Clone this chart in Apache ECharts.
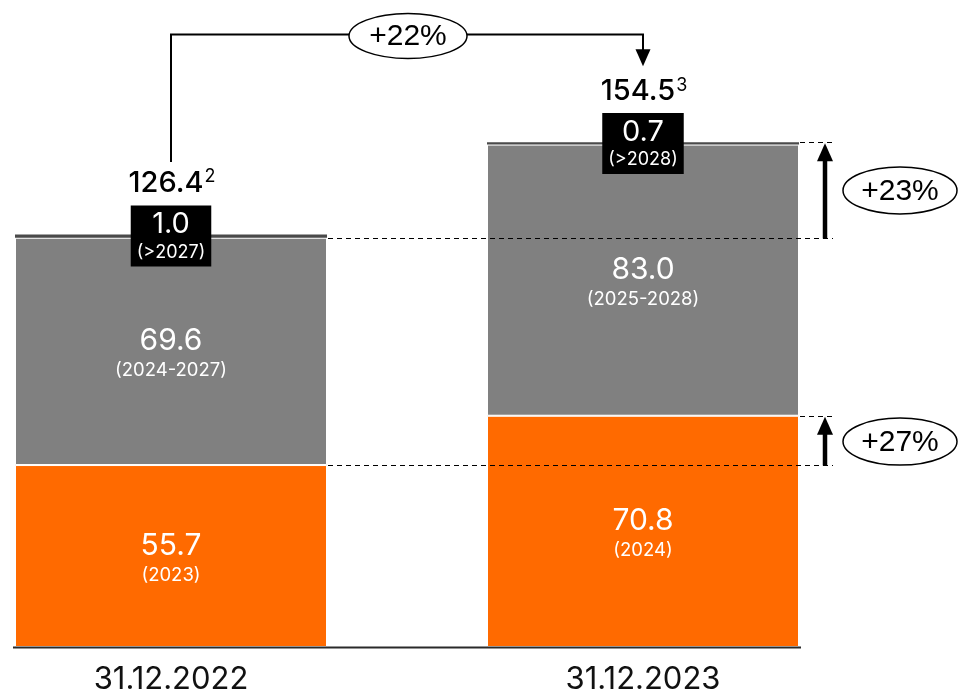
<!DOCTYPE html>
<html>
<head>
<meta charset="utf-8">
<script src="https://cdn.jsdelivr.net/npm/echarts@6/dist/echarts.min.js"></script>
<style>
html,body{margin:0;padding:0;background:#fff;}
#chart{width:959px;height:690px;}
</style>
</head>
<body>
<div id="chart"></div>
<script>
// ---- data ----
const categories = ['31.12.2022', '31.12.2023'];
const nearValues = [55.7, 70.8];
const nearPeriods = ['(2023)', '(2024)'];
const midValues = [69.6, 83.0];
const midPeriods = ['(2024-2027)', '(2025-2028)'];
const longValues = [1.0, 0.7];
const longPeriods = ['(>2027)', '(>2028)'];
const totals = [126.4, 154.5];
const totalNotes = ['2', '3'];
const changeTotal = '+22%';
const changeUpper = '+23%';
const changeNear = '+27%';

const FONT = 'Inter, "Noto Sans", sans-serif';
const ARIAL = '"Liberation Sans", Arial, sans-serif';
const ORANGE = '#FF6A00';
const GREY = '#808080';
const DARK = '#4a4a4a';
const BAR_W = 312;

const chart = echarts.init(document.getElementById('chart'), null, {renderer: 'canvas'});

function segLabel(periods, values) {
  return {
    show: true,
    position: 'inside',
    offset: [0, 3],
    fontFamily: FONT,
    formatter: p => '{v|' + values[p.dataIndex].toFixed(1) + '}\n{s|' + periods[p.dataIndex] + '}',
    rich: {
      v: {color: '#fff', fontSize: 30, fontFamily: FONT, lineHeight: 33},
      s: {color: '#fff', fontSize: 18.5, fontFamily: FONT, lineHeight: 27}
    }
  };
}

chart.setOption({
  animation: false,
  backgroundColor: '#fff',
  grid: {left: 171, right: 316, top: 59, bottom: 43, containLabel: false, outerBoundsMode: 'none'},
  xAxis: {
    type: 'category',
    data: categories,
    boundaryGap: false,
    axisLine: {show: false},
    axisTick: {show: false},
    axisLabel: {fontSize: 31, color: '#111', fontFamily: FONT, margin: 17}
  },
  yAxis: {type: 'value', min: 0, max: 180, show: false},
  series: [
    {
      type: 'bar', stack: 'a', barWidth: BAR_W, data: nearValues, clip: false,
      itemStyle: {color: ORANGE, borderColor: '#fff', borderWidth: 1},
      label: segLabel(nearPeriods, nearValues)
    },
    {
      type: 'bar', stack: 'a', barWidth: BAR_W, data: midValues, clip: false,
      itemStyle: {color: GREY, borderColor: '#fff', borderWidth: 1},
      label: segLabel(midPeriods, midValues)
    },
    {
      type: 'bar', stack: 'a', barWidth: BAR_W, data: longValues, clip: false,
      itemStyle: {color: DARK},
      z: 5,
      label: {
        show: true,
        position: 'inside',
        backgroundColor: '#000',
        padding: [3, 6, 2, 6],
        formatter: p => '{v|' + longValues[p.dataIndex].toFixed(1) + '}\n{s|' + longPeriods[p.dataIndex] + '}',
        rich: {
          v: {color: '#fff', fontSize: 29, fontFamily: FONT, lineHeight: 32, align: 'center'},
          s: {color: '#fff', fontSize: 18, fontFamily: FONT, lineHeight: 24, align: 'center'}
        }
      }
    }
  ]
});

// ---- annotations placed via the chart's own scales ----
const px = (i, v) => chart.convertToPixel({seriesIndex: 0}, [i, v]);
const half = BAR_W / 2;
const x0 = px(0, 0)[0], x1 = px(1, 0)[0];
const base = px(0, 0)[1];
const top0 = px(0, totals[0])[1];
const top1 = px(1, totals[1])[1];
const nearTop0 = Math.round(px(0, nearValues[0])[1]) + 0.5;
const nearTop1 = px(1, nearValues[1])[1];
const midTop0 = Math.round(px(0, nearValues[0] + midValues[0])[1]) + 0.5;

const g = [];
const dash = {stroke: '#000', lineWidth: 1.2, lineDash: [5, 4], fill: null};

// baseline
g.push({type: 'line', shape: {x1: x0 - half - 2, y1: base + 0.5, x2: x1 + half + 2, y2: base + 0.5}, style: {stroke: '#2a2a2a', lineWidth: 2}, z: 100});

// totals with superscript notes
[0, 1].forEach(i => {
  const t = px(i, totals[i]);
  g.push({
    type: 'text', z: 100,
    style: {
      text: '{a|' + totals[i].toFixed(1) + '}{b|' + totalNotes[i] + '}',
      x: t[0] + 1, y: t[1] - 51,
      align: 'center', verticalAlign: 'middle',
      textAlign: 'center', textVerticalAlign: 'middle',
      rich: {
        a: {fontSize: 29, fontWeight: 500, fontFamily: FONT, fill: '#000', color: '#000'},
        b: {fontSize: 18, fontFamily: FONT, fill: '#000', color: '#000', verticalAlign: 'top', padding: [0, 0, 12, 1]}
      }
    }
  });
});

// connector +22%
const yConn = 34.5;
g.push({type: 'polyline', shape: {points: [[x0, top0 - 72], [x0, yConn], [x1, yConn], [x1, top1 - 92]]}, style: {stroke: '#000', lineWidth: 2, fill: null}, z: 90});
g.push({type: 'polygon', shape: {points: [[x1 - 7.5, top1 - 93], [x1 + 7.5, top1 - 93], [x1, top1 - 76]]}, style: {fill: '#000'}, z: 90});
const cMid = (x0 + x1) / 2 + 1;
g.push({type: 'ellipse', shape: {cx: cMid, cy: yConn + 1.5, rx: 59, ry: 22.5}, style: {fill: '#fff', stroke: '#000', lineWidth: 1.5}, z: 95});
g.push({type: 'text', z: 96, style: {text: changeTotal, x: cMid, y: yConn + 2, align: 'center', verticalAlign: 'middle', textAlign: 'center', textVerticalAlign: 'middle', fontSize: 30, fontFamily: ARIAL, fill: '#000'}});

// dashed reference lines
const xArrow = x1 + half + 26;
const dashEnd = xArrow + 8;
g.push({type: 'line', shape: {x1: x0 + half + 1, y1: midTop0, x2: dashEnd, y2: midTop0}, style: dash, z: 80});
g.push({type: 'line', shape: {x1: x0 + half + 1, y1: nearTop0, x2: dashEnd, y2: nearTop0}, style: dash, z: 80});
g.push({type: 'line', shape: {x1: x1 + half + 1, y1: Math.round(top1) + 0.5, x2: dashEnd, y2: Math.round(top1) + 0.5}, style: dash, z: 80});
g.push({type: 'line', shape: {x1: x1 + half + 1, y1: Math.round(nearTop1) + 0.5, x2: dashEnd, y2: Math.round(nearTop1) + 0.5}, style: dash, z: 80});

// vertical arrows
function upArrow(yFrom, yTo) {
  g.push({type: 'line', shape: {x1: xArrow, y1: yFrom, x2: xArrow, y2: yTo + 14}, style: {stroke: '#000', lineWidth: 4.5}, z: 85});
  g.push({type: 'polygon', shape: {points: [[xArrow - 8, yTo + 18], [xArrow + 8, yTo + 18], [xArrow, yTo]]}, style: {fill: '#000'}, z: 85});
}
upArrow(midTop0, top1 + 1);
upArrow(nearTop0, nearTop1 + 1);

// ellipses on the right
function bubble(cy, txt) {
  const cx = xArrow + 75;
  g.push({type: 'ellipse', shape: {cx: cx, cy: cy, rx: 57, ry: 23.5}, style: {fill: '#fff', stroke: '#000', lineWidth: 1.5}, z: 95});
  g.push({type: 'text', z: 96, style: {text: txt, x: cx, y: cy + 1, align: 'center', verticalAlign: 'middle', textAlign: 'center', textVerticalAlign: 'middle', fontSize: 30, fontFamily: ARIAL, fill: '#000'}});
}
bubble((top1 + midTop0) / 2, changeUpper);
bubble((nearTop1 + nearTop0) / 2 + 1, changeNear);

chart.setOption({graphic: {elements: g}});
</script>
</body>
</html>
